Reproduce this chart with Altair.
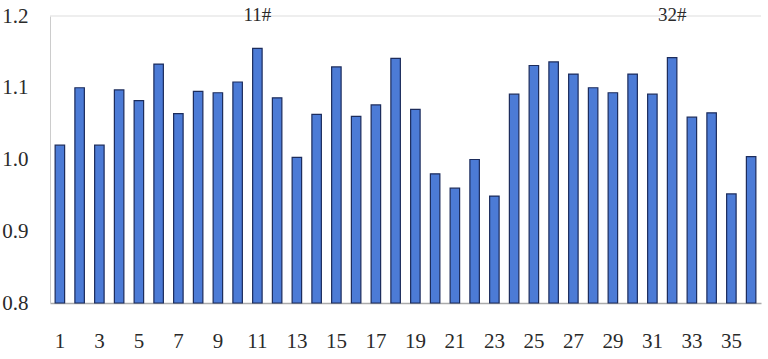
import altair as alt
import pandas as pd

categories = list(range(1, 37))
values = [1.020, 1.100, 1.020, 1.097, 1.082, 1.133, 1.064, 1.095, 1.093, 1.108,
          1.155, 1.086, 1.003, 1.063, 1.129, 1.060, 1.076, 1.141, 1.070, 0.980,
          0.960, 1.000, 0.949, 1.091, 1.131, 1.136, 1.119, 1.100, 1.093, 1.119,
          1.091, 1.142, 1.059, 1.065, 0.952, 1.004]
tick_labels = [str(i) for i in range(1, 37, 2)]
annotations = ["11#", "32#"]
annotation_pos = [11, 32]
annotation_y = [1.2, 1.2]

df = pd.DataFrame({"cat": [str(c) for c in categories], "val": values})
ann = pd.DataFrame({"cat": [str(c) for c in annotation_pos], "label": annotations, "y": annotation_y})

font = "Liberation Serif"

x_enc = alt.X("cat:N", sort=[str(c) for c in categories],
              scale=alt.Scale(paddingInner=0.52, paddingOuter=0.26),
              axis=alt.Axis(values=tick_labels, title=None, labelAngle=0, ticks=False,
                            labelFont=font, labelFontSize=21, labelColor="#2a2a2a",
                            labelPadding=27, domainColor="#aaa", domainWidth=1.5))
y_scale = alt.Scale(domain=[0.8, 1.2], nice=False, zero=False)

bars = alt.Chart(df).mark_bar(color="#4c7bd6", stroke="#1c2c5c", strokeWidth=1.2).encode(
    x=x_enc,
    y=alt.Y("val:Q", scale=y_scale,
            axis=alt.Axis(values=[0.8, 0.9, 1.0, 1.1, 1.2], format=".1f", title=None,
                          grid=False, ticks=False, labelFont=font, labelFontSize=21,
                          labelColor="#2a2a2a", labelPadding=22, domainColor="#ccc")),
    y2=alt.datum(0.8),
)

top = alt.Chart(ann).mark_rule(color="#ddd", strokeWidth=1).encode(
    y=alt.Y("max(y):Q", scale=y_scale),
)

text = alt.Chart(ann).mark_text(font=font, fontSize=19, color="#2a2a2a", baseline="middle", dy=-1).encode(
    x=alt.X("cat:N", sort=[str(c) for c in categories]),
    y=alt.Y("y:Q", scale=y_scale),
    text="label:N",
)

chart = alt.layer(top, bars, text).properties(
    width=711, height=287,
    autosize=alt.AutoSizeParams(type="none"),
    padding={"left": 50, "top": 16, "right": 7, "bottom": 56},
    background="white",
).configure_view(stroke=None)

chart.save("out.html", embed_options={"renderer": "svg", "actions": False})
